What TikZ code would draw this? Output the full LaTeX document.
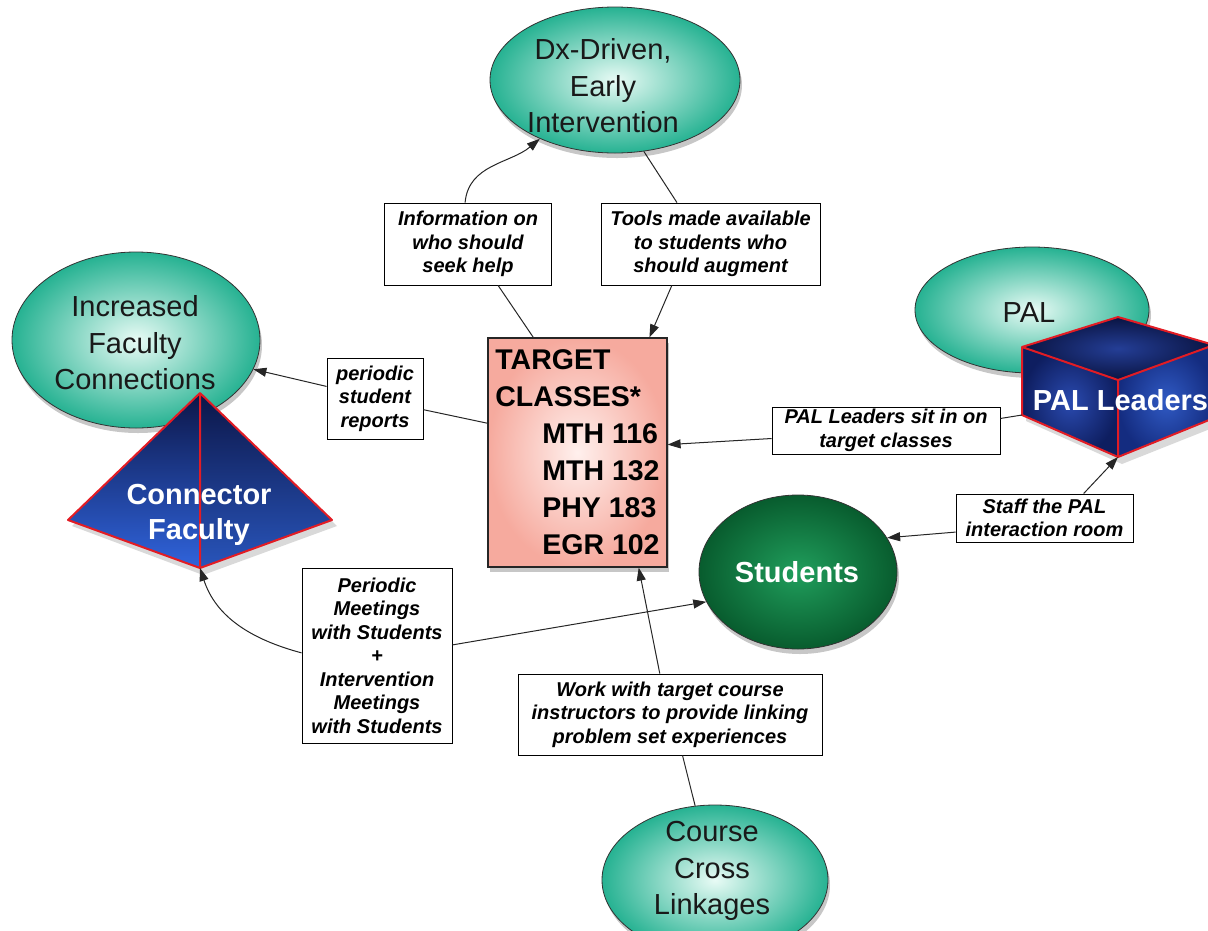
\documentclass[tikz,border=0pt]{standalone}
\usepackage{fontspec}
\setmainfont{Liberation Sans}
\usetikzlibrary{arrows.meta,shadows,shapes.geometric}
\definecolor{tealout}{RGB}{38,178,146}
\definecolor{tealin}{RGB}{232,251,245}
\definecolor{pinkout}{RGB}{246,170,158}
\definecolor{pinkin}{RGB}{255,240,237}
\definecolor{greenout}{RGB}{8,92,46}
\definecolor{greenin}{RGB}{32,158,92}
\definecolor{rededge}{RGB}{226,28,36}
\definecolor{navyD}{RGB}{12,22,72}
\definecolor{blueL}{RGB}{48,100,220}
\begin{document}
\begin{tikzpicture}[x=1pt,y=-1pt,
  shadowed/.style={drop shadow={shadow xshift=2pt,shadow yshift=-5pt,opacity=0.22,fill=black}},
  oval/.style={ellipse, draw=black!80, line width=0.8pt, inner sep=0pt, shadowed},
  tealoval/.style={oval, inner color=tealin, outer color=tealout},
  ovaltext/.style={font=\fontsize{29}{36.5}\selectfont, align=center, text=black!90, inner sep=0pt},
  whitetext/.style={font=\fontsize{29}{35}\selectfont\bfseries, align=center, text=white, inner sep=0pt},
  lbl/.style={draw=black, line width=0.9pt, fill=white, inner sep=0pt, align=center,
              font=\fontsize{20}{23.5}\selectfont\bfseries\itshape},
  link/.style={line width=1pt, draw=black!85},
  arr/.style={link, -{Triangle[length=13pt,width=9pt]}},
  edge3d/.style={draw=rededge, line width=2pt, line join=round}]
\useasboundingbox (0,0) rectangle (1208,930);
\clip (0,0) rectangle (1208,930);

% ---- ellipses ----
\node[tealoval, minimum width=250pt, minimum height=146pt] (dx) at (615,80) {};
\node[ovaltext] (dxt) at (603,86) {Dx-Driven,\\Early\\Intervention};

\node[tealoval, minimum width=248pt, minimum height=176pt] (ifc) at (136,340) {};
\node[ovaltext] (ifct) at (135,343) {Increased\\Faculty\\Connections};

\node[tealoval, minimum width=234pt, minimum height=126pt] (pal) at (1032,310) {};
\node[ovaltext] (palt) at (1029,313) {PAL};

\node[tealoval, minimum width=226pt, minimum height=150pt] (ccl) at (715,880) {};
\node[ovaltext] (cclt) at (712,871) {Course\\Cross\\Linkages};

\node[oval, inner color=greenin, outer color=greenout, minimum width=198pt, minimum height=154pt] (stu) at (798,572) {};
\node[whitetext] (stut) at (797,572) {Students};

% ---- target box ----
\node[draw=black!85, line width=1.2pt, inner color=pinkin, outer color=pinkout, shadowed,
      minimum width=179pt, minimum height=229pt, inner sep=0pt, align=left,
      font=\fontsize{28.5}{37}\selectfont\bfseries] (target) at (577.5,452.5)
  {TARGET\\CLASSES*\\\hspace*{47pt}MTH 116\\\hspace*{47pt}MTH 132\\\hspace*{47pt}PHY 183\\\hspace*{47pt}EGR 102};

% ---- connector faculty pyramid ----
\coordinate (pa) at (200,393);
\coordinate (pl) at (68,520);
\coordinate (pr) at (332,520);
\coordinate (pb) at (200,568);
\fill[black, opacity=0.15] (203,398) -- (72,526) -- (203,575) -- (337,526) -- cycle;
\shade[top color=navyD, bottom color=blueL] (pa) -- (pl) -- (pb) -- cycle;
\shade[top color=navyD, bottom color=blueL!85!black] (pa) -- (pr) -- (pb) -- cycle;
\draw[edge3d] (pa) -- (pl) -- (pb) -- (pr) -- cycle (pa) -- (pb);
\node[whitetext] (cft) at (199,515) {Connector\\Faculty};

% ---- PAL leaders cube ----
\coordinate (c1) at (1022,347);
\coordinate (c2) at (1118,317);
\coordinate (c3) at (1214,345);
\coordinate (c4) at (1118,380);
\coordinate (c5) at (1022,415);
\coordinate (c6) at (1118,457);
\coordinate (c7) at (1214,418);
\fill[black, opacity=0.15] (1026,352) -- (1026,421) -- (1122,464) -- (1220,425) -- (1220,352) -- cycle;
\shade[inner color={rgb,255:red,36;green,62;blue,150}, outer color={rgb,255:red,10;green,20;blue,66}] (c1) -- (c2) -- (c3) -- (c4) -- cycle;
\shade[inner color={rgb,255:red,42;green,74;blue,175}, outer color={rgb,255:red,14;green,30;blue,96}] (c1) -- (c4) -- (c6) -- (c5) -- cycle;
\shade[inner color={rgb,255:red,48;green,90;blue,196}, outer color={rgb,255:red,20;green,44;blue,128}] (c4) -- (c3) -- (c7) -- (c6) -- cycle;
\draw[edge3d] (c1) -- (c2) -- (c3) -- (c7) -- (c6) -- (c5) -- cycle (c1) -- (c4) -- (c3) (c4) -- (c6);
\node[whitetext] (pall) at (1120.5,400) {PAL Leaders};

% ---- linking phrases ----
\node[lbl, minimum width=167pt, minimum height=82pt] (A) at (468,244) {Information on\\who should\\seek help};
\node[lbl, minimum width=219pt, minimum height=82pt] (B) at (710.5,244) {Tools made available\\to students who\\should augment};
\node[lbl, minimum width=96pt, minimum height=81pt] (C) at (375,398.5) {periodic\\student\\reports};
\node[lbl, minimum width=228pt, minimum height=47pt] (D) at (886,430.5) {PAL Leaders sit in on\\target classes};
\node[lbl, minimum width=177pt, minimum height=48pt] (E) at (1044.5,518) {Staff the PAL\\interaction room};
\node[lbl, minimum width=150pt, minimum height=175pt] (F) at (377,655.5) {Periodic\\Meetings\\with Students\\+\\Intervention\\Meetings\\with Students};
\node[lbl, minimum width=304pt, minimum height=81pt] (G) at (670,714.5) {Work with target course\\instructors to provide linking\\problem set experiences};

% ---- connectors ----
\draw[link] (target.111) -- (A.-54);
\draw[arr] (A.94) to[out=85,in=220] (dx.218);

\draw[link] (dx.-68) -- (B.129);
\draw[arr] (B.-133) -- (target.58);

\draw[link] (target.162) -- (C.-13.5);
\draw[arr] (C.166.5) -- (ifc.-14);

\draw[link] (c5) -- (D.6);
\draw[arr] (D.184) -- (target.5);

\draw[arr] (E.32) -- (c6);
\draw[arr] (E.189) -- (stu.21);

\draw[arr] (F.178) to[out=165,in=-72] (pb);
\draw[arr] (F.8) -- (stu.198);

\draw[link] (ccl.105) -- (G.-73);
\draw[arr] (G.104) -- (target.-62);
\end{tikzpicture}
\end{document}
